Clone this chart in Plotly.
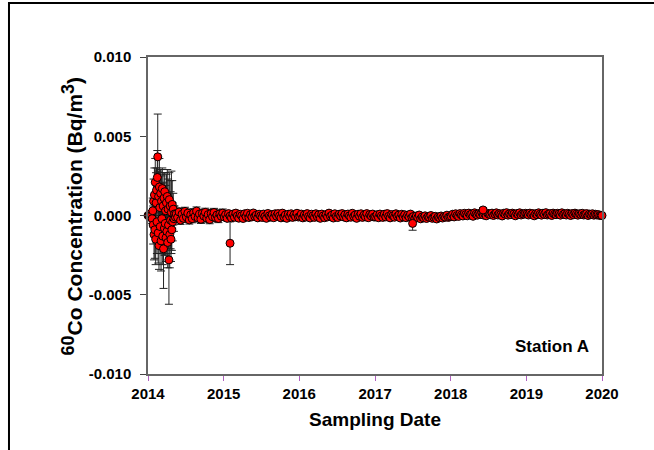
import pandas as pd
import plotly.graph_objects as go

# ---- early 2014 samples (high scatter) ----
early_dates = ["2014-01-01", "2014-01-05", "2014-01-09", "2014-01-13", "2014-01-17", "2014-01-21",
               "2014-01-24", "2014-01-26", "2014-01-28", "2014-01-30", "2014-02-01", "2014-02-03",
               "2014-02-05", "2014-02-07", "2014-02-09", "2014-02-11", "2014-02-13", "2014-02-15",
               "2014-02-17", "2014-02-19", "2014-02-21", "2014-02-23", "2014-02-25", "2014-02-27",
               "2014-03-01", "2014-03-03", "2014-03-05", "2014-03-07", "2014-03-09", "2014-03-11",
               "2014-03-13", "2014-03-15", "2014-03-17", "2014-03-19", "2014-03-21", "2014-03-23",
               "2014-03-25", "2014-03-27", "2014-03-29", "2014-03-31", "2014-04-02", "2014-04-04",
               "2014-04-06", "2014-04-08", "2014-04-10", "2014-04-12", "2014-04-14", "2014-04-16",
               "2014-04-18", "2014-04-20", "2014-04-22", "2014-04-24", "2014-04-26", "2014-04-28",
               "2014-04-30", "2014-05-03", "2014-05-06", "2014-05-09", "2014-05-13", "2014-05-17"]
early_vals = [0.0, 0.0, -0.0001, 0.0001, 0.0, -0.0002,
              0.0003, -0.0006, 0.0009, -0.0012, 0.0013, -0.0009,
              0.0021, -0.0015, 0.0008, 0.0016, -0.0004, 0.0024,
              0.0037, -0.0011, 0.0012, -0.0019, 0.0018, 0.0005,
              -0.0007, 0.0014, -0.0016, 0.0009, -0.0002, 0.0017,
              -0.0013, 0.0006, -0.0021, 0.0011, -0.0008, 0.0015,
              -0.0005, 0.0003, -0.0014, 0.0008, -0.0010, 0.0012,
              -0.0017, 0.0004, -0.0006, -0.0028, 0.0010, -0.0012,
              0.0006, -0.0003, -0.0015, 0.0002, -0.0009, 0.0007,
              -0.0004, 0.0004, -0.0002, 0.0001, -0.0001, 0.0001]
early_errs = [0.0002, 0.0002, 0.0002, 0.0002, 0.0002, 0.0003,
              0.0008, 0.0012, 0.0014, 0.0016, 0.0017, 0.0018,
              0.0015, 0.0016, 0.0019, 0.0014, 0.0020, 0.0017,
              0.0027, 0.0019, 0.0016, 0.0015, 0.0018, 0.0021,
              0.0017, 0.0015, 0.0019, 0.0016, 0.0022, 0.0013,
              0.0018, 0.0015, 0.0025, 0.0016, 0.0017, 0.0012,
              0.0020, 0.0016, 0.0015, 0.0018, 0.0014, 0.0017,
              0.0016, 0.0019, 0.0015, 0.0028, 0.0017, 0.0021,
              0.0016, 0.0018, 0.0014, 0.0026, 0.0013, 0.0015,
              0.0012, 0.0010, 0.0008, 0.0005, 0.0003, 0.0003]

# ---- routine weekly samples, late May 2014 to end of 2019 (values in 1e-5 Bq/m3) ----
flat_start = "2014-05-24"
flat_end = "2019-12-28"
flat_vals_e5 = [
    # 2014
    -12, 22, -30, 8, -18, 26, -9, 15, -28, 4, -20, 17, -6, 28, -15, 9, -24, 13, -3, 20,
    -16, 6, -26, 12, -8, 19, -13, 3, -19, 10, -5, 15,
    # 2015
    -9, 6, -18, 12, -4, -15, 9, -11, 15, -3, -17, 8, -2, -19, 11, -7, 14, -13, 5, -9, 16, -6, 2, -15, 8, -3,
    -12, 9, -6, -18, 13, -2, -10, 6, -14, 11, -4, 12, -3, -15, 15, -9, 3, -18, 8, -6, 11, -12, 5, -8, 14, -10,
    # 2016
    -5, 9, -15, 3, -10, 12, -6, -16, 8, -2, -12, 11, -8, 5, -18, 9, -3, -14, 6, -9, 15, -5, 2, -16, 11, -6,
    -13, 8, -3, 12, -9, 5, -15, 9, -2, -11, 14, -6, 3, -18, 8, -5, 11, -12, 2, -8, 12, -14, 6, -3, 9, -10,
    # 2017
    -8, 5, -14, 9, -3, -12, 8, -9, 12, -5, -15, 6, -2, -11, 11, -6, 3, -16, 8, -9, 5, -14, 2, -8, 9, -12,
    -6, -18, -3, -14, 3, -21, -9, -15, -2, -19, -8, -12, 0, -18, -11, -5, -22, -9, -14, -3, -16, -6, -11, 2, -12, -8,
    # 2018
    -5, 8, -9, 11, 0, -6, 12, 3, -3, 14, 6, -2, 15, 5, 9, -5, 17, 8, 2, 12, 6, 18, 3, 11, -2, 14,
    8, 5, 15, 0, 9, 17, 3, 12, 6, -3, 14, 8, 18, 2, 11, 5, 15, 9, -2, 12, 6, 17, 3, 11, 8, 14,
    # 2019
    9, 3, 15, 6, 12, -2, 11, 5, 17, 8, 2, 14, 6, 18, 3, 9, 12, 0, 15, 8, 5, 14, 9, 2, 17, 6,
    11, 3, 14, 8, 0, 12, 5, 15, 9, 2, 11, 6, 14, 3, 8, 12, 0, 9, 5, 11, 2, 8, 3, 6, 0, 1,
]
# typical counting uncertainty of the routine samples, per year (Bq/m3)
flat_err_years = [2014, 2015, 2016, 2017, 2018, 2019]
flat_err_by_year = [0.00026, 0.00016, 0.00015, 0.00015, 0.00013, 0.00013]

# ---- isolated notable samples ----
extra_dates = ["2015-02-01", "2017-07-01", "2018-06-06", "2020-01-01"]
extra_vals = [-0.00175, -0.0005, 0.00035, 0.0]
extra_errs = [0.00135, 0.00043, 0.00015, 0.0001]

y_tickvals = [-0.010, -0.005, 0.0, 0.005, 0.010]
y_ticktext = ["-0.010", "-0.005", "0.000", "0.005", "0.010"]
x_ticklabels = ["2014", "2015", "2016", "2017", "2018", "2019", "2020"]

flat_vals = [v * 1e-5 for v in flat_vals_e5]
flat_dates = pd.date_range(flat_start, flat_end, periods=len(flat_vals))
err_lookup = dict(zip(flat_err_years, flat_err_by_year))
flat_errs = [err_lookup[d.year] for d in flat_dates]

x_all = list(pd.to_datetime(early_dates)) + list(flat_dates) + list(pd.to_datetime(extra_dates))
y_all = early_vals + flat_vals + extra_vals
e_all = early_errs + flat_errs + extra_errs

FONT = "Arial, Liberation Sans, sans-serif"

fig = go.Figure()
fig.add_trace(go.Scatter(
    x=x_all, y=y_all, mode="markers",
    marker=dict(size=8, color="#ff0000", line=dict(color="#000000", width=1)),
    error_y=dict(type="data", array=e_all, color="#222222", thickness=1, width=4),
    cliponaxis=False, showlegend=False,
))

fig.update_layout(
    width=654, height=450,
    margin=dict(l=148, r=52, t=57, b=76),
    paper_bgcolor="white", plot_bgcolor="white",
    font=dict(family=FONT, color="#000000"),
)
fig.update_xaxes(
    range=["2014-01-01", "2020-01-01"],
    tickvals=[f"{y}-01-01" for y in x_ticklabels], ticktext=x_ticklabels,
    ticks="outside", ticklen=5, tickcolor="#b060c0", tickwidth=1,
    tickfont=dict(size=15, weight="bold", family=FONT),
    showline=True, linecolor="#666666", linewidth=1.5, mirror=True,
    showgrid=False, zeroline=False,
)
fig.update_yaxes(
    range=[-0.010, 0.010],
    tickvals=y_tickvals, ticktext=y_ticktext,
    ticks="outside", ticklen=6, tickcolor="#444444", tickwidth=1,
    tickfont=dict(size=15, weight="bold", family=FONT),
    ticklabelstandoff=6,
    showline=True, linecolor="#666666", linewidth=1.5, mirror=True,
    showgrid=False, zeroline=False,
)

fig.add_annotation(
    text="<b><sup><span style='font-size:18px'>60</span></sup>Co Concentration (Bq/m"
         "<sup><span style='font-size:18px'>3</span></sup>)</b>",
    xref="paper", yref="paper", x=-0.1674, y=0.497, textangle=-90,
    xanchor="center", yanchor="middle", showarrow=False,
    font=dict(size=21, family=FONT),
)
fig.add_annotation(
    text="<b>Sampling Date</b>",
    xref="paper", yref="paper", x=0.5, y=-0.145,
    xanchor="center", yanchor="middle", showarrow=False,
    font=dict(size=19, family=FONT),
)
fig.add_annotation(
    text="<b>Station A</b>",
    xref="paper", yref="paper", x=0.89, y=0.088,
    xanchor="center", yanchor="middle", showarrow=False,
    font=dict(size=17, family=FONT),
)
fig.add_shape(
    type="path", xref="paper", yref="paper",
    path="M -0.3062,-0.3 L -0.3062,1.1703 L 1.2,1.1703",
    line=dict(color="#000000", width=2),
)

fig.write_html("out.html")
